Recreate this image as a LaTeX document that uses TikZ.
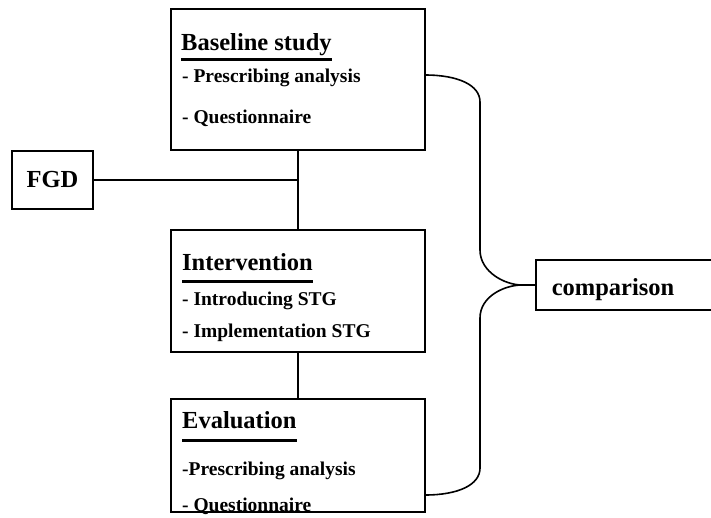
\documentclass[tikz,border=0pt]{standalone}
\usepackage{fontspec}
\setmainfont{Liberation Serif}
\usepackage{tikz}
\usetikzlibrary{calc}

\begin{document}
\begin{tikzpicture}[x=1pt, y=-1pt, every node/.style={inner sep=0pt}, box/.style={draw, line width=1.6pt, rectangle}, hd/.style={anchor=base west, font=\fontsize{24.5}{28}\selectfont\bfseries}, txt/.style={anchor=base west, font=\fontsize{19.5}{23}\selectfont\bfseries}, ln/.style={line width=1.6pt}, ul/.style={line width=3pt}]
    \useasboundingbox (0,0) rectangle (711,517);
    \clip (0,0) rectangle (711,517);
    % boxes
    \node[box, minimum width=254pt, minimum height=141pt] (base) at (298,79.5) {};
    \node[box, minimum width=254pt, minimum height=122pt] (inter) at (298,291) {};
    \node[box, minimum width=254pt, minimum height=113pt] (eval) at (298,455.5) {};
    \node[box, minimum width=81pt, minimum height=58pt] (fgd) at (52.5,180) {};
    \node[box, minimum width=180pt, minimum height=50pt] (comp) at (626,285) {};
    % texts
    \node[hd] (baseT) at (181,50) {Baseline study};
    \node[txt] (base1) at (182,82) {- Prescribing analysis};
    \node[txt] (base2) at (182,123) {- Questionnaire};
    \node[hd] (interT) at (182,270) {Intervention};
    \node[txt] (inter1) at (182,305) {- Introducing STG};
    \node[txt] (inter2) at (182,337) {- Implementation STG};
    \node[hd] (evalT) at (182,428) {Evaluation};
    \node[txt] (eval1) at (182,475) {-Prescribing analysis};
    \node[txt] (eval2) at (182,511) {- Questionnaire};
    \node[font=\fontsize{24.5}{28}\selectfont\bfseries] (fgdT) at (fgd) {FGD};
    \node[font=\fontsize{24.5}{28}\selectfont\bfseries] (compT) at (613,290) {comparison};
    % underlines
    \draw[ul] ([yshift=-9pt]baseT.base west) -- ([yshift=-9pt]baseT.base east);
    \draw[ul] ([yshift=-11pt]interT.base west) -- ([yshift=-11pt]interT.base east);
    \draw[ul] ([yshift=-12pt]evalT.base west) -- ([yshift=-12pt]evalT.base east);
    % connectors
    \draw[ln] (base.south) -- (inter.north);
    \draw[ln] (inter.south) -- (eval.north);
    \draw[ln] (fgd.east) -- (fgd.east -| base.south);
    % brace
    \coordinate (tip) at (522,285);
    \draw[ln] (425,75) .. controls (458,75) and (480,85) .. (480,102) -- (480,250)
        .. controls (480,272) and (505,285) .. (tip)
        .. controls (505,285) and (480,296) .. (480,318) -- (480,468)
        .. controls (480,485) and (458,495) .. (425,495);
    \draw[ln] (tip) -- (comp.west);
\end{tikzpicture}
\end{document}
